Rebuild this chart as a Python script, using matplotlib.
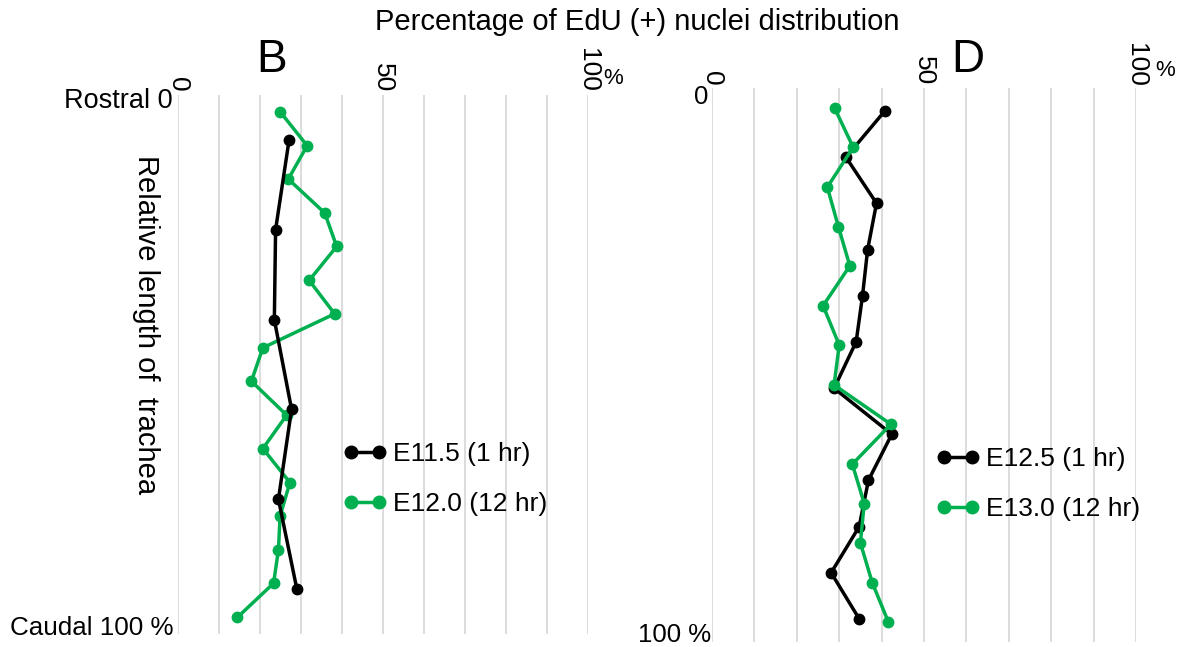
import matplotlib
matplotlib.use("Agg")
import matplotlib.pyplot as plt
from matplotlib.lines import Line2D

plt.rcParams["font.family"] = ["Liberation Sans", "DejaVu Sans"]

W, H = 1181, 647

# panel B: position along trachea (% rostral->caudal) and % EdU+ nuclei
b_black_pos = [8.3, 25.0, 41.7, 58.3, 75.0, 91.7]
b_black_val = [27.1, 23.8, 23.5, 27.7, 24.5, 29.0]
b_green_pos = [3.1, 9.4, 15.6, 21.9, 28.1, 34.4, 40.6, 46.9,
               53.1, 59.4, 65.6, 71.9, 78.1, 84.4, 90.6, 96.9]
b_green_val = [24.9, 31.5, 26.9, 35.8, 38.7, 32.0, 38.2, 20.7,
               17.9, 26.5, 20.7, 27.3, 24.9, 24.5, 23.3, 14.5]

# panel D
d_black_pos = [4.2, 12.5, 20.8, 29.2, 37.5, 45.8, 54.2, 62.5, 70.8, 79.2, 87.5, 95.8]
d_black_val = [40.7, 31.6, 38.8, 36.7, 35.5, 34.0, 28.8, 42.4, 36.9, 34.7, 28.1, 34.7]
d_green_pos = [3.6, 10.7, 17.9, 25.0, 32.1, 39.3, 46.4, 53.6,
               60.7, 67.9, 75.0, 82.1, 89.3, 96.4]
d_green_val = [28.9, 33.3, 27.2, 29.8, 32.5, 26.2, 30.0, 28.8,
               42.2, 33.1, 35.9, 35.0, 37.8, 41.6]

grid_ticks = [0, 10, 20, 30, 40, 50, 60, 70, 80, 90, 100]
BLACK = "black"
GREEN = "#00b050"


def px(x, y):
    return x / W, 1 - y / H


def make_axes(x0, y0, x1, y1):
    ax = fig.add_axes([x0 / W, 1 - y1 / H, (x1 - x0) / W, (y1 - y0) / H])
    ax.set_xlim(0, 100)
    ax.set_ylim(100, 0)
    ax.set_xticks(grid_ticks)
    ax.set_yticks([])
    ax.tick_params(axis="x", length=0, labelbottom=False)
    ax.grid(axis="x", color="#d9d9d9", linewidth=1.3)
    ax.set_axisbelow(True)
    for s in ax.spines.values():
        s.set_visible(False)
    return ax


def draw(ax, val, pos, color, z):
    ax.plot(val, pos, color=color, lw=2.5, marker="o", ms=7.5, zorder=z, clip_on=False)


fig = plt.figure(figsize=(W / 100, H / 100), dpi=100)

axB = make_axes(178, 95, 588, 634)
draw(axB, b_green_val, b_green_pos, GREEN, 3)
draw(axB, b_black_val, b_black_pos, BLACK, 4)

axD = make_axes(712, 88, 1136, 642)
draw(axD, d_black_val, d_black_pos, BLACK, 3)
draw(axD, d_green_val, d_green_pos, GREEN, 4)

# rotated percentage labels above each panel
for ax, bottoms in [(axB, {0: 92, 50: 92, 100: 92}), (axD, {0: 86, 50: 85, 100: 87})]:
    tr = ax.get_xaxis_transform()
    bb = ax.get_position()
    for v, yb in bottoms.items():
        yfrac = (1 - yb / H - bb.y0) / bb.height
        ax.text(v, yfrac, str(v), rotation=-90, ha="center", va="bottom",
                fontsize=19, transform=tr, clip_on=False)

fig.text(*px(613, 79), "%", fontsize=16, ha="center", va="center")
fig.text(*px(1165, 71), "%", fontsize=16, ha="center", va="center")

fig.text(*px(637, 22), "Percentage of EdU (+) nuclei distribution", fontsize=21,
         ha="center", va="center")
fig.text(*px(272, 60), "B", fontsize=33, ha="center", va="center")
fig.text(*px(968, 60), "D", fontsize=33, ha="center", va="center")

fig.text(*px(173, 101), "Rostral 0", fontsize=19.5, ha="right", va="center")
fig.text(*px(173, 628), "Caudal 100 %", fontsize=18.7, ha="right", va="center")
fig.text(*px(146, 325), "Relative length of  trachea", fontsize=21, rotation=-90,
         ha="center", va="center")
fig.text(*px(701, 97), "0", fontsize=18.5, ha="center", va="center")
fig.text(*px(711, 635), "100 %", fontsize=18.5, ha="right", va="center")


# legends
def add_legend(ax, labels, x, y, hl):
    handles = [Line2D([], [], color=BLACK, lw=2.5, marker="o", ms=9),
               Line2D([], [], color=GREEN, lw=2.5, marker="o", ms=9)]
    ax.legend(handles, labels, loc="upper left", bbox_to_anchor=px(x, y),
              bbox_transform=fig.transFigure, frameon=False, numpoints=2,
              fontsize=19, handlelength=hl, handletextpad=0.22,
              labelspacing=1.0, borderpad=0, borderaxespad=0)


add_legend(axB, ["E11.5 (1 hr)", "E12.0 (12 hr)"], 343, 442, 1.66)
add_legend(axD, ["E12.5 (1 hr)", "E13.0 (12 hr)"], 936, 447, 1.66)

fig.savefig("out.png", dpi=100)
